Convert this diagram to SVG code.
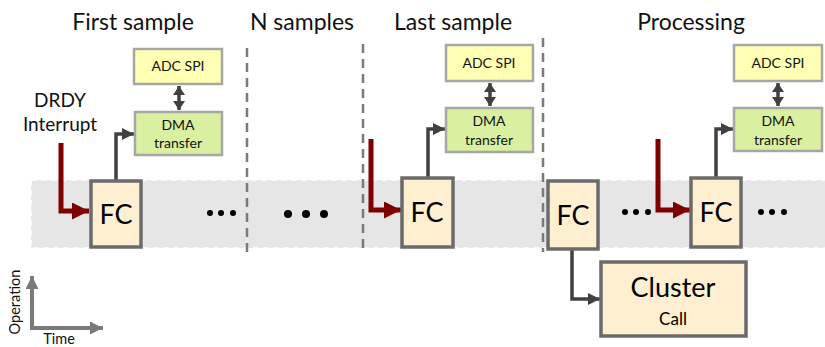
<svg xmlns="http://www.w3.org/2000/svg" width="825" height="347" viewBox="0 0 825 347">
  <defs>
    <marker id="ahDark" markerWidth="12" markerHeight="12" refX="12" refY="6" orient="auto" markerUnits="userSpaceOnUse">
      <path d="M0,0 L12,6 L0,12 Z" fill="#404040"/>
    </marker>
    <marker id="ahRed" markerWidth="17" markerHeight="17" refX="17" refY="8.5" orient="auto" markerUnits="userSpaceOnUse">
      <path d="M0,0 L17,8.5 L0,17 Z" fill="#7f0000"/>
    </marker>
    <marker id="ahDbl" markerWidth="9" markerHeight="12" refX="9" refY="6" orient="auto-start-reverse" markerUnits="userSpaceOnUse">
      <path d="M0,0 L9,6 L0,12 Z" fill="#404040"/>
    </marker>
    <marker id="ahAxis" markerWidth="13" markerHeight="13" refX="13" refY="6.5" orient="auto" markerUnits="userSpaceOnUse">
      <path d="M0,0 L13,6.5 L0,13 Z" fill="#7a7a7a"/>
    </marker>
  </defs>
  <style>
    .title { font-family: Lato, "Open Sans", sans-serif; font-size: 23px; fill: #111; text-anchor: middle; }
    .fc rect { fill: #fdefcf; stroke: #6b6b6b; stroke-width: 3.5; }
    .fc text { font-family: Lato, "Open Sans", sans-serif; font-size: 27px; fill: #000; text-anchor: middle; }
    .adc rect { fill: #ffffb3; stroke: #a6a6a6; stroke-width: 2.5; }
    .dma rect { fill: #d8f0a0; stroke: #a6a6a6; stroke-width: 2.5; }
    .small { font-family: Lato, "Open Sans", sans-serif; font-size: 14px; fill: #111; text-anchor: middle; }
    .link { fill: none; stroke: #404040; stroke-width: 3.5; }
    .irq { fill: none; stroke: #7f0000; stroke-width: 5; }
    .sep { stroke: #7a7a7a; stroke-width: 2.5; stroke-dasharray: 9 6; }
    .dots { fill: #000; }
    .lbl { font-family: Lato, "Open Sans", sans-serif; fill: #111; text-anchor: middle; }
  </style>

  <!-- timeline band -->
  <rect x="31" y="180" width="800" height="68" fill="#e6e6e6" stroke="#ffffff" stroke-width="1.5" stroke-dasharray="6 4"/>

  <!-- phase separators -->
  <line class="sep" x1="247" y1="48" x2="247" y2="252"/>
  <line class="sep" x1="363" y1="44" x2="363" y2="252"/>
  <line class="sep" x1="543" y1="38" x2="543" y2="252"/>

  <!-- phase titles -->
  <text class="title" x="133" y="30">First sample</text>
  <text class="title" x="302" y="30">N samples</text>
  <text class="title" x="453" y="30">Last sample</text>
  <text class="title" x="691" y="30">Processing</text>

  <!-- interrupt label -->
  <g id="drdy">
    <text class="lbl" font-size="19" x="60" y="107">DRDY</text>
    <text class="lbl" font-size="19" x="60" y="131">Interrupt</text>
  </g>

  <!-- connectors -->
  <g id="connectors">
    <!-- interrupt arrows -->
    <path class="irq" d="M61,143 V211 H89" marker-end="url(#ahRed)"/>
    <path class="irq" d="M371,139 V210 H401" marker-end="url(#ahRed)"/>
    <path class="irq" d="M658,139 V210 H690" marker-end="url(#ahRed)"/>
    <!-- FC to DMA -->
    <path class="link" d="M116,180 V134 H134" marker-end="url(#ahDark)"/>
    <path class="link" d="M428,177 V129 H445" marker-end="url(#ahDark)"/>
    <path class="link" d="M716,177 V129 H733" marker-end="url(#ahDark)"/>
    <!-- ADC <-> DMA -->
    <line class="link" x1="179" y1="86" x2="179" y2="110" marker-start="url(#ahDbl)" marker-end="url(#ahDbl)"/>
    <line class="link" x1="490" y1="83" x2="490" y2="106" marker-start="url(#ahDbl)" marker-end="url(#ahDbl)"/>
    <line class="link" x1="778" y1="83" x2="778" y2="106" marker-start="url(#ahDbl)" marker-end="url(#ahDbl)"/>
    <!-- FC to cluster -->
    <path class="link" d="M572,250 V299 H600" marker-end="url(#ahDark)"/>
  </g>

  <!-- first sample -->
  <g id="adc1" class="adc"><rect x="134" y="49" width="88" height="35"/><text class="small" x="178" y="71">ADC SPI</text></g>
  <g id="dma1" class="dma"><rect x="135" y="112" width="87" height="43"/><text class="small" x="178" y="130">DMA</text><text class="small" x="178" y="148">transfer</text></g>
  <g id="fc1" class="fc"><rect x="91" y="181" width="50" height="66"/><text x="116" y="224">FC</text></g>

  <!-- last sample -->
  <g id="adc2" class="adc"><rect x="446" y="45" width="87" height="36"/><text class="small" x="489" y="68">ADC SPI</text></g>
  <g id="dma2" class="dma"><rect x="446" y="108" width="87" height="44"/><text class="small" x="489" y="126">DMA</text><text class="small" x="489" y="145">transfer</text></g>
  <g id="fc2" class="fc"><rect x="402" y="178" width="51" height="69"/><text x="427" y="222">FC</text></g>

  <!-- processing -->
  <g id="fc3" class="fc"><rect x="548" y="181" width="50" height="68"/><text x="573" y="225">FC</text></g>
  <g id="adc3" class="adc"><rect x="734" y="45" width="88" height="36"/><text class="small" x="778" y="68">ADC SPI</text></g>
  <g id="dma3" class="dma"><rect x="734" y="108" width="88" height="43"/><text class="small" x="778" y="126">DMA</text><text class="small" x="778" y="145">transfer</text></g>
  <g id="fc4" class="fc"><rect x="691" y="178" width="50" height="69"/><text x="716" y="222">FC</text></g>
  <g id="cluster" class="fc">
    <rect x="601" y="262" width="145" height="74"/>
    <text x="673" y="297">Cluster</text>
    <text x="673" y="325" style="font-size:17px">Call</text>
  </g>

  <!-- ellipses -->
  <g class="dots">
    <circle cx="210" cy="213" r="3"/><circle cx="221" cy="213" r="3"/><circle cx="233" cy="213" r="3"/>
    <circle cx="288" cy="214" r="4"/><circle cx="306" cy="214" r="4"/><circle cx="324" cy="214" r="4"/>
    <circle cx="625" cy="212" r="3"/><circle cx="636" cy="212" r="3"/><circle cx="648" cy="212" r="3"/>
    <circle cx="761" cy="212" r="3"/><circle cx="772" cy="212" r="3"/><circle cx="784" cy="212" r="3"/>
  </g>

  <!-- axes legend -->
  <g id="axes">
    <path d="M32,328 V276" fill="none" stroke="#7a7a7a" stroke-width="4" marker-end="url(#ahAxis)"/>
    <path d="M30,328 H103" fill="none" stroke="#7a7a7a" stroke-width="4" marker-end="url(#ahAxis)"/>
    <text class="lbl" font-size="14.5" transform="translate(20,302) rotate(-90)">Operation</text>
    <text class="lbl" font-size="14.5" x="59" y="344">Time</text>
  </g>
</svg>
